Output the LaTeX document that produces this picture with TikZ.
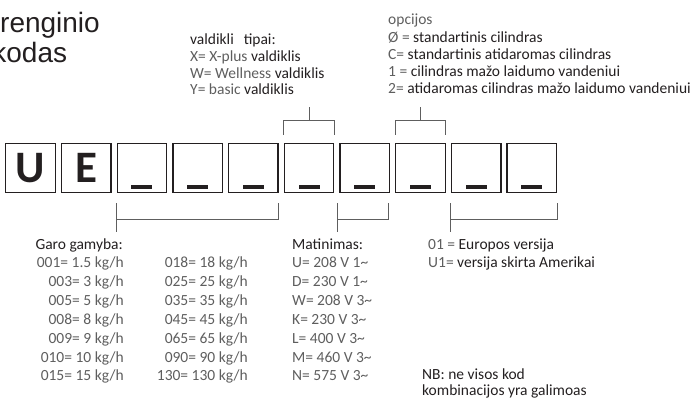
\documentclass[tikz,border=0pt]{standalone}
\usepackage{fontspec}
\setmainfont{Carlito}
\newfontfamily\titlefont{Liberation Sans}
\definecolor{textdark}{HTML}{231F20}
\definecolor{codegray}{HTML}{5E5E5E}
\usetikzlibrary{positioning}

\begin{document}
\begin{tikzpicture}[x=1pt, y=-1pt,
  codebox/.style={draw=textdark, line width=1.3pt, minimum size=49.5pt, inner sep=0pt},
  bigletter/.style={inner sep=0pt, text=textdark, font=\fontsize{45}{45}\selectfont\bfseries},
  lbl/.style={anchor=base west, inner sep=0pt, text=textdark, font=\fontsize{15.5}{17}\selectfont},
  val/.style={lbl, text=codegray},
  brk/.style={codegray, line width=0.8pt}]
  \useasboundingbox (0,0) rectangle (692,398);
  \clip (0,0) rectangle (692,398);

  % title, cut by the left edge
  \node[anchor=base west, inner sep=0pt, text=textdark, font=\titlefont\fontsize{28}{30}\selectfont] (title1) at (-7.8,33) {Įrenginio};
  \node[anchor=base west, inner sep=0pt, text=textdark, font=\titlefont\fontsize{28}{30}\selectfont] (title2) at (-7.8,63) {kodas};

  % code boxes
  \foreach \i in {0,...,9}
    \node[codebox] (b\i) at ({30.5+55.7*\i},168) {};
  \node[bigletter] (lu) at (b0) {U};
  \node[bigletter] (le) at (b1) {E};
  \foreach \i in {2,...,9}
    \fill[textdark] ([xshift=-10.5pt,yshift=4pt]b\i.south) rectangle ++(21,-4);

  % brackets above
  \foreach \i in {5,7} {
    \draw[brk] ([yshift=8pt]b\i.north west) -- ++(0,-14) -| ([yshift=8pt]b\i.north east);
    \draw[brk] ([yshift=22pt]b\i.north) -- ++(0,-14);
  }

  % brackets below
  \draw[brk] ([yshift=-10pt]b2.south west) -- ++(0,29);
  \draw[brk] ([yshift=-26pt]b2.south west) -| ([yshift=-10pt]b4.south east);
  \draw[brk] ([xshift=-2pt,yshift=-10pt]b6.south west) -- ++(0,29);
  \draw[brk] ([xshift=-2pt,yshift=-26pt]b6.south west) -| ([xshift=-2pt,yshift=-10pt]b6.south east);
  \draw[brk] ([yshift=-10pt]b8.south west) -- ++(0,29);
  \draw[brk] ([yshift=-26pt]b8.south west) -| ([yshift=-10pt]b9.south east);

  % controller types
  \node[lbl] (ctl) at (190,45) {valdikli\hspace{10pt}tipai:};
  \node[lbl] (ctl1) at (190,62) {{\color{codegray}X= X-plus} valdiklis};
  \node[lbl] (ctl2) at (190,78.5) {{\color{codegray}W= Wellness} valdiklis};
  \node[lbl] (ctl3) at (190,95) {{\color{codegray}Y= basic} valdiklis};

  % options
  \node[val] (opt) at (388,25) {opcijos};
  \node[lbl] (opt1) at (388,42.5) {{\color{codegray}Ø =} standartinis cilindras};
  \node[lbl] (opt2) at (388,59.5) {{\color{codegray}C=} standartinis atidaromas cilindras};
  \node[lbl] (opt3) at (388,76.5) {{\color{codegray}1 =} cilindras mažo laidumo vandeniui};
  \node[lbl] (opt4) at (388,93.5) {{\color{codegray}2=} atidaromas cilindras mažo laidumo vandeniui};

  % steam output
  \node[lbl, anchor=base east] (steam) at (123,249) {Garo gamyba:};
  \foreach \a/\b [count=\r] in {001= 1.5/018= 18, 003= 3/025= 25, 005= 5/035= 35,
      008= 8/045= 45, 009= 9/065= 65, 010= 10/090= 90, 015= 15/130= 130} {
    \node[val, anchor=base east] (sa\r) at (124,{267.5+18.9*(\r-1)}) {\a{} kg/h};
    \node[val, anchor=base east] (sb\r) at (248,{267.5+18.9*(\r-1)}) {\b{} kg/h};
  }

  % supply voltage
  \node[lbl] (volt) at (292,249) {Matinimas:};
  \foreach \m [count=\r] in {U= 208 V 1, D= 230 V 1, W= 208 V 3, K= 230 V 3,
      L= 400 V 3, M= 460 V 3, N= 575 V 3}
    \node[val] (v\r) at (292,{267.5+18.9*(\r-1)}) {\m\textasciitilde};

  % version
  \node[lbl] (ver1) at (428,249) {{\color{codegray}01 =} Europos versija};
  \node[lbl] (ver2) at (428,267.5) {{\color{codegray}U1=} versija skirta Amerikai};

  % note
  \node[lbl] (nb1) at (422,379) {NB: ne visos kod};
  \node[lbl] (nb2) at (422,395.5) {kombinacijos yra galimoas};
\end{tikzpicture}
\end{document}
